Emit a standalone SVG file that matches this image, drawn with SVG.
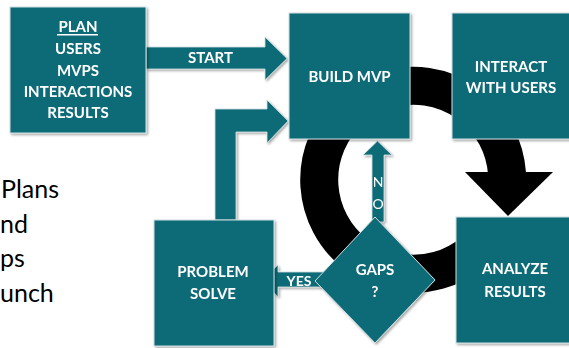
<svg xmlns="http://www.w3.org/2000/svg" width="569" height="348" viewBox="0 0 569 348">
  <style>
    .box { fill: #106b77; stroke: #cfdfe1; stroke-width: 1; }
    .conn { fill: #106b77; stroke: #cfdfe1; stroke-width: 0.8; }
    .lbl { font-family: Lato, "Liberation Sans", sans-serif; font-weight: bold; font-size: 15px; fill: #ffffff; text-anchor: middle; }
    .no { font-family: Lato, "Liberation Sans", sans-serif; font-size: 14px; fill: #ffffff; text-anchor: middle; }
    .side { font-family: Lato, "Liberation Sans", sans-serif; font-size: 25px; fill: #000000; }
  </style>
  <defs>
    <filter id="sh" x="-10%" y="-10%" width="130%" height="130%">
      <feDropShadow dx="1.5" dy="1.5" stdDeviation="1.2" flood-color="#000000" flood-opacity="0.35"/>
    </filter>
  </defs>
  <rect width="569" height="348" fill="#ffffff"/>

  <g id="side-text">
    <text class="side" x="1" y="198">Plans</text>
    <text class="side" x="0" y="233">nd</text>
    <text class="side" x="0" y="267">ps</text>
    <text class="side" x="0" y="302">unch</text>
  </g>

  <g id="connectors">
    <!-- big black cycle arrow -->
    <path d="M 473.4 252 A 94 94 0 1 1 507 173.4" fill="none" stroke="#000000" stroke-width="38"/>
    <polygon points="465,172 553,172 508,216" fill="#000000"/>
    <!-- START arrow -->
    <g filter="url(#sh)">
      <polygon class="conn" points="146,47 265,47 265,37 287,58.5 265,80 265,69 146,69"/>
      <text class="lbl" x="210.5" y="63">START</text>
    </g>
    <!-- PROBLEM SOLVE -> BUILD MVP -->
    <polygon class="conn" filter="url(#sh)" points="215,220 215,109 267,109 267,100 288,121 267,143 267,132 236,132 236,220"/>
    <!-- NO arrow -->
    <g filter="url(#sh)">
      <polygon class="conn" points="372,222 372,155 363,155 377.5,141 392,155 384,155 384,222"/>
      <text class="no" x="378" y="187">N</text>
      <text class="no" x="378" y="209">O</text>
    </g>
    <!-- YES arrow -->
    <g filter="url(#sh)">
      <polygon class="conn" points="262,280 278,265 278,272 326,272 326,287 278,287 278,297"/>
      <text class="lbl" x="299" y="286" style="font-size:14px">YES</text>
    </g>
  </g>

  <g id="node-plan" filter="url(#sh)">
    <rect class="box" x="10" y="7" width="136" height="126"/>
    <text class="lbl" x="78" y="32">PLAN</text>
    <rect x="57" y="34" width="41" height="1.5" fill="#ffffff"/>
    <text class="lbl" x="78" y="54">USERS</text>
    <text class="lbl" x="78" y="76">MVPS</text>
    <text class="lbl" x="78" y="97">INTERACTIONS</text>
    <text class="lbl" x="78" y="118">RESULTS</text>
  </g>

  <g id="node-build" filter="url(#sh)">
    <rect class="box" x="289" y="13" width="121" height="126"/>
    <text class="lbl" x="349.5" y="82">BUILD MVP</text>
  </g>

  <g id="node-interact" filter="url(#sh)">
    <rect class="box" x="452" y="13" width="120" height="126"/>
    <text class="lbl" x="511" y="72">INTERACT</text>
    <text class="lbl" x="511" y="93">WITH USERS</text>
  </g>

  <g id="node-problem" filter="url(#sh)">
    <rect class="box" x="154" y="220" width="120" height="126"/>
    <text class="lbl" x="213" y="277">PROBLEM</text>
    <text class="lbl" x="213" y="299">SOLVE</text>
  </g>

  <g id="node-gaps" filter="url(#sh)">
    <polygon class="box" points="375,217 435,280 375,343 315,281"/>
    <text class="lbl" x="375" y="275">GAPS</text>
    <text class="lbl" x="375" y="297">?</text>
  </g>

  <g id="node-analyze" filter="url(#sh)">
    <rect class="box" x="456" y="217" width="120" height="126"/>
    <text class="lbl" x="515" y="274">ANALYZE</text>
    <text class="lbl" x="515" y="297">RESULTS</text>
  </g>
</svg>
